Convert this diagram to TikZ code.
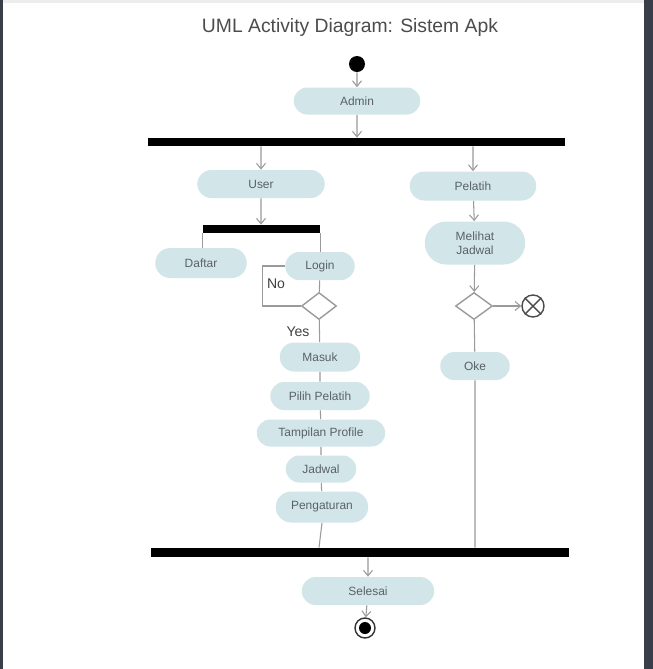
\documentclass[tikz,border=0pt]{standalone}
\usepackage{fontspec}
\setmainfont{Liberation Sans}
\usepackage{tikz}
\usetikzlibrary{positioning, shapes, shapes.misc, shapes.geometric, arrows.meta}
\definecolor{actfill}{HTML}{D2E6E9}
\definecolor{acttext}{HTML}{5A6068}
\definecolor{flowline}{HTML}{9A9A9A}
\definecolor{frameedge}{HTML}{3A3D4A}
\tikzset{>={Straight Barb[length=1.1mm, width=1.8mm]}}
\tikzset{
    activity/.style = {rounded rectangle, fill=actfill, text=acttext, inner sep=1pt,
                        font=\fontsize{6.8}{8}\selectfont, align=center},
    decision/.style = {diamond, draw=flowline, line width=0.8pt, fill=white, inner sep=0pt},
    syncbar/.style = {rectangle, fill=black, inner sep=0pt},
    flow/.style = {draw=flowline, line width=0.6pt},
    guard/.style = {font=\fontsize{8}{9}\selectfont, text=black!75}
}

\begin{document}
\begin{tikzpicture}
		% page and screen edges
		\fill[white] (0,0) rectangle (13.06,-13.38);
		\fill[frameedge] (12.88,0) rectangle (13.06,-13.38);
		\fill[frameedge] (0,0) rectangle (0.06,-13.38);
		\fill[black!7] (0.06,0) rectangle (12.88,-0.06);
		\useasboundingbox (0,0) rectangle (13.06,-13.38);
		\node (title) [text=black!70, font=\fontsize{11}{13}\selectfont] at (7.0,-0.54) {UML Activity Diagram: Sistem Apk};
		\node (start) [circle, fill=black, minimum size=0.32cm, inner sep=0pt] at (7.14,-1.28) {};
		\node (admin) [activity, minimum width=2.6cm, minimum height=0.54cm] at (7.14,-2.02) {Admin};
		\node (fork) [syncbar, minimum width=8.34cm, minimum height=0.16cm] at (7.13,-2.84) {};
		\node (user) [activity, minimum width=2.62cm, minimum height=0.56cm] at (5.22,-3.68) {User};
		\node (pelatih) [activity, minimum width=2.6cm, minimum height=0.58cm] at (9.46,-3.72) {Pelatih};
		\node (userfork) [syncbar, minimum width=2.34cm, minimum height=0.16cm] at (5.23,-4.58) {};
		\node (daftar) [activity, minimum width=1.9cm, minimum height=0.6cm] at (4.02,-5.26) {Daftar};
		\node (login) [activity, minimum width=1.46cm, minimum height=0.56cm] at (6.4,-5.32) {Login};
		\node (cek) [decision, minimum width=0.7cm, minimum height=0.54cm] at (6.38,-6.12) {};
		\node (no) [guard] at (5.52,-5.68) {No};
		\node (yes) [guard] at (5.96,-6.64) {Yes};
		\node (masuk) [activity, minimum width=1.68cm, minimum height=0.58cm] at (6.4,-7.14) {Masuk};
		\node (pilih) [activity, minimum width=2.06cm, minimum height=0.56cm] at (6.4,-7.92) {Pilih Pelatih};
		\node (profile) [activity, minimum width=2.64cm, minimum height=0.54cm] at (6.42,-8.66) {Tampilan Profile};
		\node (jadwal) [activity, minimum width=1.48cm, minimum height=0.54cm] at (6.42,-9.38) {Jadwal};
		\node (pengaturan) [activity, minimum width=1.92cm, minimum height=0.62cm] at (6.44,-10.14) {Pengaturan};
		\node (melihat) [activity, minimum width=2.08cm, minimum height=0.86cm] at (9.5,-4.86) {Melihat\\Jadwal};
		\node (cekjadwal) [decision, minimum width=0.74cm, minimum height=0.54cm] at (9.48,-6.12) {};
		\node (batal) [circle, draw=black!70, line width=0.8pt, minimum size=0.44cm, inner sep=0pt] at (10.66,-6.12) {};
		\draw [black!70, line width=0.8pt] (batal.north west) -- (batal.south east) (batal.north east) -- (batal.south west);
		\node (oke) [activity, minimum width=1.46cm, minimum height=0.56cm] at (9.5,-7.32) {Oke};
		\node (join) [syncbar, minimum width=8.36cm, minimum height=0.18cm] at (7.2,-11.05) {};
		\node (selesai) [activity, minimum width=2.72cm, minimum height=0.56cm] at (7.36,-11.82) {Selesai};
		\node (finish) [circle, draw=black!80, line width=0.8pt, minimum size=0.4cm, inner sep=0pt] at (7.3,-12.56) {};
		\node (finishdot) [circle, fill=black, minimum size=0.24cm, inner sep=0pt] at (finish) {};
		% connectors
		\draw [flow, ->] (start) to (admin);
		\draw [flow, ->] (admin) to (admin |- fork.north);
		\draw [flow, ->] (user |- fork.south) to (user);
		\draw [flow, ->] (pelatih |- fork.south) to (pelatih);
		\draw [flow, ->] (user) to (user |- userfork.north);
		\draw [flow] (userfork.south west) to (userfork.south west |- daftar.north);
		\draw [flow] (userfork.south east) to (userfork.south east |- login.north);
		\draw [flow] (login) to (cek);
		\draw [flow] (cek.west) -| ([xshift=-0.44cm]login.west) -- (login.west);
		\draw [flow] (cek) to (masuk);
		\draw [flow] (masuk) to (pilih);
		\draw [flow] (pilih) to (profile);
		\draw [flow] (profile) to (jadwal);
		\draw [flow] (jadwal) to (pengaturan);
		\draw [flow] (pengaturan.south) to ([xshift=-0.06cm]pengaturan.south |- join.north);
		\draw [flow, ->] (pelatih) to (melihat);
		\draw [flow, ->] (melihat) to (cekjadwal);
		\draw [flow, ->] (cekjadwal) to (batal);
		\draw [flow] (cekjadwal) to (oke);
		\draw [flow] (oke) to (oke |- join.north);
		\draw [flow, ->] (selesai |- join.south) to (selesai);
		\draw [flow, ->] (selesai) to (finish);
	\end{tikzpicture}
\end{document}
